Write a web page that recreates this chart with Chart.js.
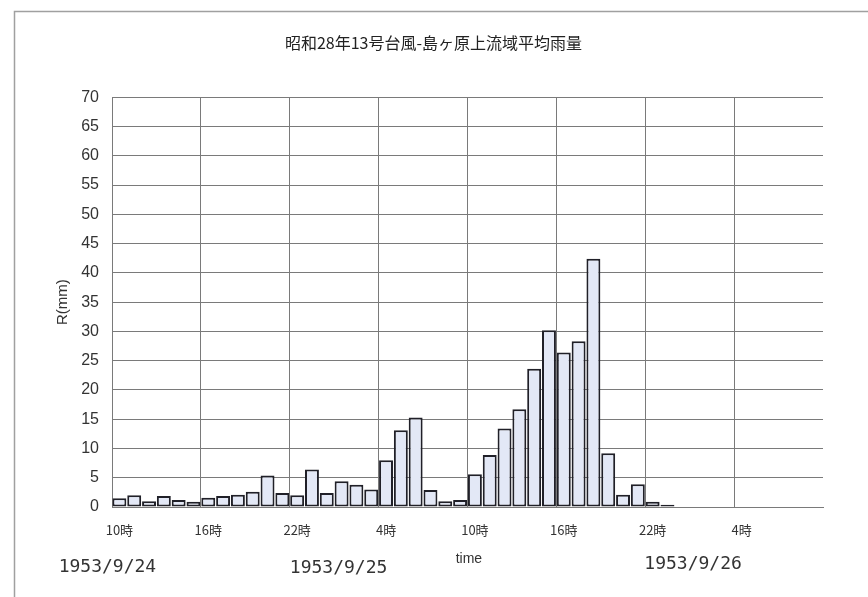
<!DOCTYPE html>
<html>
<head>
<meta charset="utf-8">
<style>
  html, body { margin: 0; padding: 0; background: #ffffff; }
  #wrap { width: 868px; height: 597px; position: relative; overflow: hidden; }
</style>
<script src="https://cdn.jsdelivr.net/npm/chart.js@4.4.1/dist/chart.umd.min.js"></script>
</head>
<body>
<div id="wrap"><canvas id="c" width="868" height="597"></canvas></div>
<script>
// ---- data ----
const categories = [
  '10時','11時','12時','13時','14時','15時',
  '16時','17時','18時','19時','20時','21時',
  '22時','23時','0時','1時','2時','3時',
  '4時','5時','6時','7時','8時','9時',
  '10時','11時','12時','13時','14時','15時',
  '16時','17時','18時','19時','20時','21時',
  '22時','23時','0時','1時','2時','3時',
  '4時','5時','6時','7時','8時','9時'
];
const rainfall = [
  1.5, 2.0, 1.0, 1.9, 1.2, 0.9,
  1.6, 1.9, 2.1, 2.6, 5.4, 2.4,
  2.0, 6.4, 2.4, 4.4, 3.8, 3.0,
  8.0, 13.1, 15.3, 2.9, 1.0, 1.2,
  5.6, 8.9, 13.4, 16.7, 23.6, 30.2,
  26.4, 28.3, 42.4, 9.2, 2.1, 3.9,
  0.9, 0.4, 0, 0, 0, 0,
  0, 0, 0, 0, 0, 0
];
const yTicks = [0, 5, 10, 15, 20, 25, 30, 35, 40, 45, 50, 55, 60, 65, 70];
const dateLabels = ['1953/9/24', '1953/9/25', '1953/9/26'];
const dateAnchors = [0, 15, 39];      // category index each date label sits under
const titleText = '昭和28年13号台風-島ヶ原上流域平均雨量';
const xTitleText = 'time';
const yTitleText = 'R(mm)';

const GRID = '#7a7a7a';

// frame + date text plugin
const decor = {
  id: 'decor',
  beforeDraw(chart) {
    const ctx = chart.ctx;
    ctx.save();
    ctx.fillStyle = '#ffffff';
    ctx.fillRect(0, 0, chart.width, chart.height);
    ctx.strokeStyle = '#a0a0a0';
    ctx.lineWidth = 1.5;
    ctx.strokeRect(14.5, 11.5, 1000, 1000);
    ctx.restore();
  },
  afterDraw(chart) {
    const ctx = chart.ctx;
    const xs = chart.scales.x;
    const bottom = chart.chartArea.bottom;
    ctx.save();
    ctx.fillStyle = '#333333';
    ctx.textAlign = 'center';
    ctx.textBaseline = 'middle';
    ctx.font = '18px "DejaVu Sans Mono", "Liberation Mono", monospace';
    const dx = [-12, -3, -4];
    const dy = [60, 61, 57];
    dateLabels.forEach((t, i) => {
      ctx.fillText(t, xs.getPixelForValue(dateAnchors[i]) + dx[i], bottom + dy[i]);
    });
    ctx.font = '14px "Liberation Sans", Arial, sans-serif';
    ctx.fillText(xTitleText, xs.getPixelForValue(24) - 6, bottom + 52);
    ctx.restore();
  }
};

new Chart(document.getElementById('c'), {
  type: 'bar',
  data: {
    labels: categories,
    datasets: [{
      data: rainfall,
      backgroundColor: '#e3e8f6',
      borderColor: '#202028',
      borderWidth: ctx => (ctx.raw > 0 ? 2 : 0),
      borderSkipped: false,
      barPercentage: 0.94,
      categoryPercentage: 1.0
    }]
  },
  options: {
    responsive: false,
    animation: false,
    events: [],
    layout: { padding: { left: 44, right: 45, top: 33, bottom: 50 } },
    plugins: {
      legend: { display: false },
      tooltip: { enabled: false },
      title: {
        display: true,
        text: titleText,
        color: '#222222',
        font: { family: '"Noto Sans CJK JP", sans-serif', size: 16, weight: 'normal' },
        padding: { top: 0, bottom: 45 }
      }
    },
    scales: {
      x: {
        type: 'category',
        offset: true,
        grid: {
          offset: true,
          drawTicks: false,
          color: ctx => (ctx.index % 6 === 0 ? GRID : 'rgba(0,0,0,0)'),
          lineWidth: 1
        },
        border: { display: true, color: GRID, width: 1 },
        ticks: {
          autoSkip: false,
          maxRotation: 0,
          minRotation: 0,
          padding: 15,
          color: '#333333',
          font: { family: '"Noto Sans CJK JP", sans-serif', size: 13 },
          callback: function (value, index) {
            return index % 6 === 0 ? categories[index] : '';
          }
        },
        afterFit: s => { s.height = 40; }
      },
      y: {
        type: 'linear',
        min: yTicks[0],
        max: yTicks[yTicks.length - 1],
        afterBuildTicks: s => { s.ticks = yTicks.map(v => ({ value: v })); },
        grid: { drawTicks: false, color: GRID, lineWidth: 1 },
        border: { display: true, color: GRID, width: 1 },
        ticks: {
          padding: 13,
          color: '#333333',
          font: { family: '"Liberation Sans", Arial, sans-serif', size: 16 }
        },
        title: {
          display: true,
          text: yTitleText,
          color: '#333333',
          font: { family: '"Liberation Sans", Arial, sans-serif', size: 15 },
          padding: { top: 10, bottom: 0 }
        },
        afterFit: s => { s.width = 68; }
      }
    }
  },
  plugins: [decor]
});
</script>
</body>
</html>
